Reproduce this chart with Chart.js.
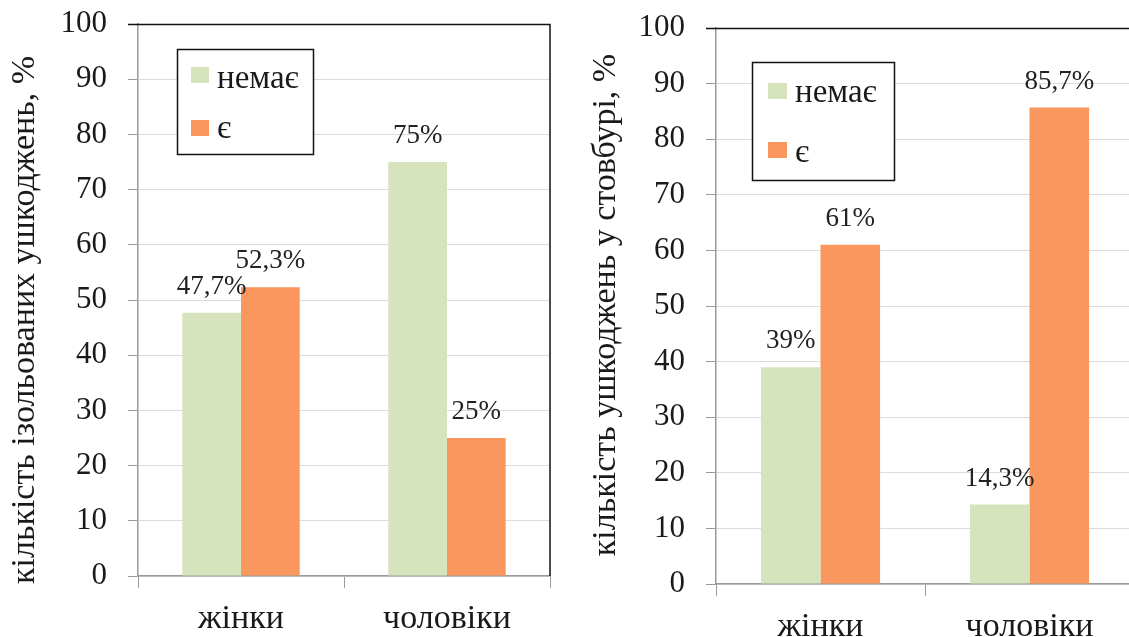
<!DOCTYPE html>
<html>
<head>
<meta charset="utf-8">
<script src="https://cdn.jsdelivr.net/npm/chart.js@4/dist/chart.umd.min.js"></script>
<style>
  html, body { margin: 0; padding: 0; background: #fff; }
  body { width: 1129px; height: 637px; overflow: hidden; position: relative; }
  .pane { position: absolute; top: 0; height: 637px; }
  #paneA { left: 0; width: 560px; }
  #paneB { left: 560px; width: 580px; }
</style>
</head>
<body>
<div class="pane" id="paneA"><canvas id="chartA"></canvas></div>
<div class="pane" id="paneB"><canvas id="chartB"></canvas></div>
<script>
var categories = ['жінки', 'чоловіки'];
var seriesNames = ['немає', 'є'];

// ізольовані ушкодження
var isolatedNone = [47.7, 75];
var isolatedYes = [52.3, 25];

// ушкодження у стовбурі
var trunkNone = [39, 14.3];
var trunkYes = [61, 85.7];

var yMin = 0, yMax = 100, yStep = 10;

var titleA = 'кількість ізольованих ушкоджень, %';
var titleB = 'кількість ушкоджень у стовбурі, %';

var GREEN = '#D6E3BC';
var ORANGE = '#F9975F';
var SERIF = "'Liberation Serif', 'DejaVu Serif', serif";

// підписи значень над стовпцями
var valueLabels = {
	id: 'valueLabels',
	afterDatasetsDraw: function(chart) {
		var ctx = chart.ctx;
		ctx.save();
		ctx.font = '27px ' + SERIF;
		ctx.fillStyle = '#222';
		ctx.textAlign = 'center';
		ctx.textBaseline = 'middle';
		chart.data.datasets.forEach(function(ds, i) {
			chart.getDatasetMeta(i).data.forEach(function(bar, j) {
				var txt = String(ds.data[j]).replace('.', ',') + '%';
				ctx.fillText(txt, bar.x, bar.y - 26);
			});
		});
		ctx.restore();
	}
};

// рамка зверху і справа, назва осі, легенда в рамці
var frameAndLegend = {
	id: 'frameAndLegend',
	afterDraw: function(chart) {
		var ctx = chart.ctx;
		var a = chart.chartArea;
		var o = chart.options.plugins.frameAndLegend;
		ctx.save();

		ctx.strokeStyle = '#111';
		ctx.lineWidth = 1.5;
		ctx.beginPath();
		ctx.moveTo(a.left - 10, a.top + 0.5);
		ctx.lineTo(a.right, a.top + 0.5);
		ctx.lineTo(a.right, a.bottom);
		ctx.stroke();

		// назва осі Y
		ctx.fillStyle = '#1a1a1a';
		ctx.font = '34px ' + SERIF;
		ctx.textAlign = 'center';
		ctx.textBaseline = 'middle';
		ctx.translate(o.titleX, o.titleY);
		ctx.rotate(-Math.PI / 2);
		ctx.fillText(o.title, 0, 0);
		ctx.setTransform(1, 0, 0, 1, 0, 0);

		// легенда
		var L = o.legend;
		ctx.fillStyle = '#fff';
		ctx.fillRect(L.x, L.y, L.w, L.h);
		ctx.strokeStyle = '#111';
		ctx.lineWidth = 1.5;
		ctx.strokeRect(L.x + 0.5, L.y + 0.5, L.w, L.h);
		ctx.font = '33px ' + SERIF;
		ctx.textAlign = 'left';
		ctx.textBaseline = 'alphabetic';
		chart.data.datasets.forEach(function(ds, i) {
			ctx.fillStyle = ds.backgroundColor;
			ctx.fillRect(L.boxX, L.rows[i], L.boxW, L.boxH);
			ctx.fillStyle = '#1a1a1a';
			ctx.fillText(ds.label, L.textX, L.base[i]);
		});
		ctx.restore();
	}
};

function makeChart(id, noneData, yesData, cfg) {
	return new Chart(document.getElementById(id), {
		type: 'bar',
		data: {
			labels: categories,
			datasets: [
				{ label: seriesNames[0], data: noneData, backgroundColor: GREEN },
				{ label: seriesNames[1], data: yesData, backgroundColor: ORANGE }
			]
		},
		plugins: [valueLabels, frameAndLegend],
		options: {
			responsive: true,
			maintainAspectRatio: false,
			animation: false,
			layout: { padding: { left: 0, top: cfg.top, right: cfg.right, bottom: 0 } },
			datasets: { bar: { categoryPercentage: 0.57, barPercentage: 1.0 } },
			plugins: {
				legend: { display: false },
				tooltip: { enabled: false },
				frameAndLegend: { title: cfg.title, titleX: cfg.titleX, titleY: cfg.titleY, legend: cfg.legend }
			},
			scales: {
				x: {
					grid: { drawOnChartArea: false, drawTicks: true, tickLength: 12, color: '#9a9a9a', offset: true },
					border: { color: '#9a9a9a', width: 1.5 },
					ticks: { font: { family: SERIF, size: 34 }, color: '#1a1a1a', padding: cfg.xPad },
					afterFit: function(s) {
						s.height = cfg.xHeight;
						s.paddingLeft = 0;
						s.paddingRight = 0;
					}
				},
				y: {
					min: yMin,
					max: yMax,
					grid: { color: '#dcdcdc', lineWidth: 1, tickLength: 10, tickColor: '#9a9a9a' },
					border: { color: '#9a9a9a', width: 1.5 },
					ticks: { stepSize: yStep, font: { family: SERIF, size: 31 }, color: '#1a1a1a', padding: 21 },
					afterFit: function(s) {
						s.width = cfg.yWidth;
						s.paddingTop = 0;
						s.paddingBottom = 0;
					}
				}
			}
		}
	});
}

makeChart('chartA', isolatedNone, isolatedYes, {
	top: 24, right: 10, yWidth: 138, xHeight: 61, xPad: 11,
	title: titleA, titleX: 25, titleY: 320,
	legend: { x: 177, y: 49, w: 136, h: 105, boxX: 191, boxW: 18, boxH: 16, rows: [67, 120], textX: 217, base: [88, 138] }
});

makeChart('chartB', trunkNone, trunkYes, {
	top: 28, right: 6, yWidth: 156, xHeight: 53, xPad: 11,
	title: titleB, titleX: 46, titleY: 305,
	legend: { x: 192, y: 62, w: 142, h: 118, boxX: 208, boxW: 19, boxH: 16, rows: [83, 142], textX: 235, base: [102, 162] }
});
</script>
</body>
</html>
